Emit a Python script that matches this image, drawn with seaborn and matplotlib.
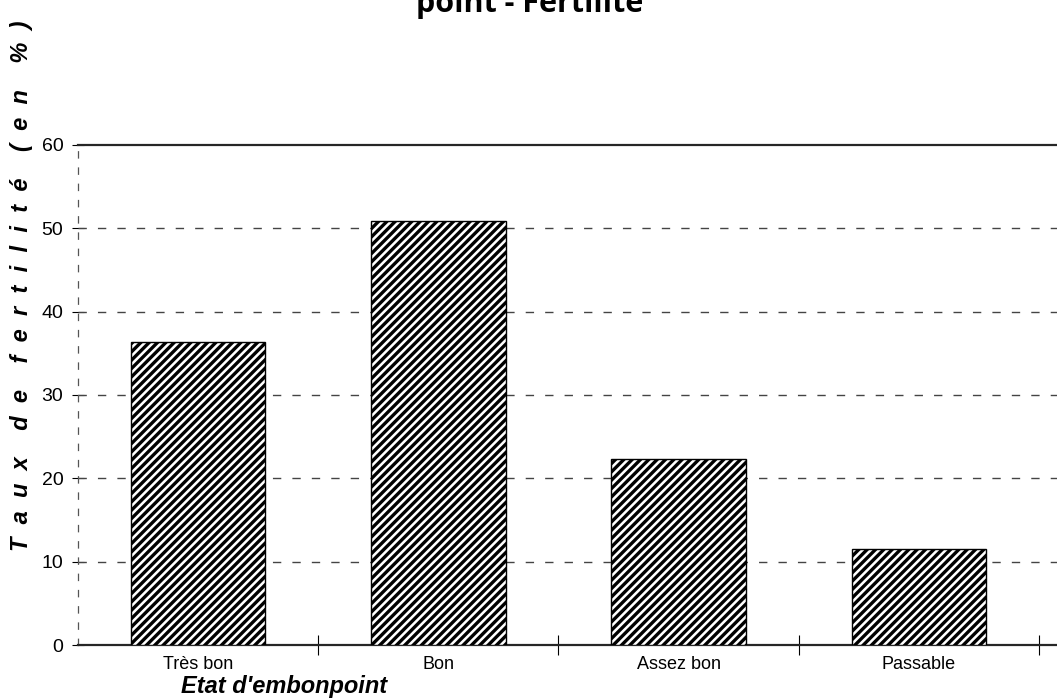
import matplotlib
matplotlib.use("Agg")
import matplotlib.pyplot as plt
import pandas as pd
import seaborn as sns

categories = ["Très bon", "Bon", "Assez bon", "Passable"]
fertility = [36.4, 50.9, 22.3, 11.5]
yticks = [0, 10, 20, 30, 40, 50, 60]

df = pd.DataFrame({"Etat": categories, "Taux": fertility})

sns.set_style("white")
plt.rcParams["font.family"] = ["Liberation Sans", "DejaVu Sans"]
plt.rcParams["hatch.linewidth"] = 2.4
plt.rcParams["hatch.color"] = "black"
plt.rcParams["text.color"] = "black"
plt.rcParams["xtick.color"] = "black"
plt.rcParams["ytick.color"] = "black"

fig = plt.figure(figsize=(10.57, 6.99), dpi=100)
ax = fig.add_axes([78 / 1057, 54 / 699, 985 / 1057, 500 / 699])

sns.barplot(data=df, x="Etat", y="Taux", color="white", edgecolor="black",
            linewidth=1.0, width=0.56, hatch="////", ax=ax, zorder=3)

ax.set_ylim(0, 60)
ax.set_xlim(-0.5, 3.6)
ax.set_yticks(yticks)
ax.set_yticklabels([str(t) for t in yticks], fontsize=14)
ax.tick_params(axis="y", left=True, direction="inout", length=9, width=0.8, pad=6)
ax.tick_params(axis="x", length=0, labelsize=13, pad=8)

# category boundary ticks
ax.set_xticks([0.5, 1.5, 2.5, 3.5], minor=True)
ax.tick_params(axis="x", which="minor", bottom=True, direction="inout", length=14, width=0.8)

for t in yticks[1:-1]:
    ax.axhline(t, color="#444444", lw=1.0, ls=(0, (6, 8)), zorder=1)

ax.spines["top"].set_linewidth(1.6)
ax.spines["bottom"].set_linewidth(1.6)
ax.spines["right"].set_visible(False)
ax.spines["left"].set_linestyle((0, (5, 8)))
ax.spines["left"].set_color("#555555")
ax.spines["left"].set_linewidth(0.9)

ax.set_ylabel("")
ax.set_xlabel("")

fig.text(284 / 1057, 1 - 686 / 699, "Etat d'embonpoint", ha="center", va="center",
         fontsize=17, fontweight="bold", fontstyle="italic")

ylab = "    ".join(["  ".join(w) for w in ["Taux", "de", "fertilité", "(en", "%)"]])
fig.text(22 / 1057, 1 - 286 / 699, ylab,
         rotation=90, ha="center", va="center", fontsize=17, fontstyle="italic",
         fontweight="bold")

fig.text(530 / 1057, 1 - 12 / 699, "point - Fertilité", ha="center", va="baseline",
         fontsize=22, fontweight="bold", family=["Open Sans", "DejaVu Sans"])

fig.savefig("out.png", dpi=100)
